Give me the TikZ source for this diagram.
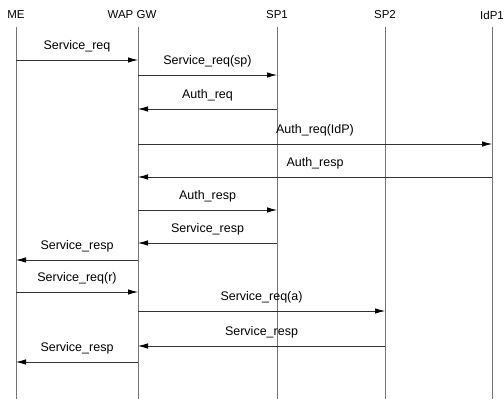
\documentclass[tikz,border=0pt]{standalone}
\usepackage{fontspec}
\setmainfont{Liberation Sans}
\usetikzlibrary{arrows.meta, calc}
\tikzset{
  hdr/.style  = {inner sep=0pt, font=\fontsize{11.5}{12}\selectfont},
  life/.style = {line width=0.6pt, black!55},
  msg/.style  = {-{Latex[length=10pt,width=5.5pt,color=black]}, line width=0.8pt, black!80},
  lbl/.style  = {inner sep=0pt, yshift=14pt, text=black, font=\fontsize{12.5}{13}\selectfont}
}

\begin{document}
\begin{tikzpicture}[x=1pt, y=1pt]
\useasboundingbox (0,0) rectangle (504,-401);

%% parties
\node[hdr] (me)  at (16,-15)  {ME};
\node[hdr] (wap) at (138,-15) {\hspace*{-12pt}WAP GW};
\node[hdr] (sp1) at (277,-15) {SP1};
\node[hdr] (sp2) at (385,-15) {SP2};
\node[hdr] (idp) at (492,-15) {IdP1};

%% lifelines
\coordinate (top) at (0,-27);
\coordinate (bot) at (0,-399);
\foreach \p in {me, wap, sp1, sp2, idp}
  \draw[life] (\p |- top) -- (\p |- bot);

%% messages
\foreach \n/\a/\b/\y/\t in {
    1/me/wap/60/Service\_req,
    2/wap/sp1/75/Service\_req(sp),
    3/sp1/wap/109/Auth\_req,
    4/wap/idp/144/Auth\_req(IdP),
    5/idp/wap/177/Auth\_resp,
    6/wap/sp1/210/Auth\_resp,
    7/sp1/wap/243/Service\_resp,
    8/wap/me/260/Service\_resp,
    9/me/wap/292/Service\_req(r),
    10/wap/sp2/311/Service\_req(a),
    11/sp2/wap/346/Service\_resp,
    12/wap/me/362/Service\_resp}
{
  \coordinate (y\n) at (0,-\y);
  \coordinate (m\n s) at (\a |- y\n);
  \coordinate (m\n e) at (\b |- y\n);
  \draw[msg] (m\n s) -- node[lbl] (t\n) {\t} (m\n e);
}

\end{tikzpicture}
\end{document}
